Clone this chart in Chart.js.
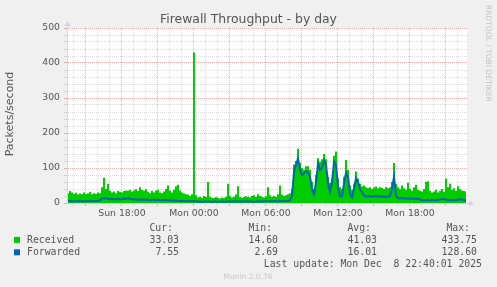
<!DOCTYPE html>
<html>
<head>
<meta charset="utf-8">
<title>Firewall Throughput - by day</title>
<script src="https://cdn.jsdelivr.net/npm/chart.js@4.4.0/dist/chart.umd.min.js"></script>
<style>
  html, body { margin: 0; padding: 0; background: #f0f0f0; }
  #wrap { width: 497px; height: 287px; }
</style>
</head>
<body>
<div id="wrap"><canvas id="myChart" width="497" height="287"></canvas></div>
<script>
// hours relative to Mon 00:00, one sample every 10 minutes
const startHour = -10.58;
const endHour = 22.75;
const stepHour = 1 / 6;

const dayLabels = { "-6": "Sun 18:00", "0": "Mon 00:00", "6": "Mon 06:00", "12": "Mon 12:00", "18": "Mon 18:00" };

const received = [
  28,34,30,26,29,24,27,25,30,26,
  27,32,25,28,26,30,28,45,72,40,
  55,35,30,33,28,35,32,30,34,36,
  35,38,33,36,40,34,45,37,35,39,
  32,28,35,30,36,38,30,28,33,40,
  50,35,30,38,48,52,36,30,27,25,
  24,20,25,430,22,16,18,15,20,17,
  60,18,15,14,17,15,13,16,14,18,
  55,20,16,18,24,48,18,15,17,19,
  18,16,20,22,18,25,20,18,16,19,
  45,22,18,20,17,25,50,24,20,22,
  25,28,40,110,120,155,115,100,95,105,
  105,95,60,40,80,128,118,125,140,125,
  75,58,70,135,147,70,45,40,75,123,
  95,50,38,55,90,70,55,47,50,45,
  42,45,40,44,47,42,45,43,40,46,
  42,45,60,114,55,45,40,50,42,38,
  58,40,35,45,52,38,35,33,40,60,
  62,35,30,33,38,30,35,40,32,70,
  45,55,38,42,35,48,40,36,34,33.03
];

const forwarded = [
  6,6,5,5,5,6,5,5,5,5,
  6,6,6,5,6,6,8,13,14,13,
  12,11,12,10,11,12,10,11,13,12,
  14,12,11,10,11,10,9,10,9,10,
  9,8,9,9,8,9,8,8,9,8,
  8,7,8,7,7,6,6,6,6,5,
  5,5,5,6,5,4,4,3,4,4,
  4,4,3,4,4,3,4,4,3,4,
  4,5,4,5,5,4,4,5,4,5,
  5,4,4,3,4,5,4,4,5,5,
  5,5,5,6,5,5,6,6,5,6,
  6,8,20,90,110,127,95,80,85,90,
  88,75,40,25,60,112,95,100,122,110,
  55,32,60,118,110,45,18,20,55,86,
  75,25,17,40,71,60,40,30,22,18,
  20,19,18,19,20,19,18,19,18,18,
  18,20,40,75,20,14,13,14,13,13,
  13,13,12,13,12,12,10,8,8,8,
  8,8,9,8,8,9,10,12,11,9,
  9,8,9,8,8,10,11,10,8,7.55
];

const seriesNames = ["Received", "Forwarded"];
const seriesColors = ["#00cc00", "#0066b3"];
const statCur = ["33.03", "7.55"];
const statMin = ["14.60", "2.69"];
const statAvg = ["41.03", "16.01"];
const statMax = ["433.75", "128.60"];
const lastUpdate = "Last update: Mon Dec  8 22:40:01 2025";

function toPoints(arr) {
  let pts = [];
  for (let i = 0; i < arr.length; i++) {
    pts.push({ x: startHour + (i + 0.5) * stepHour, y: arr[i] });
  }
  return pts;
}

const textColor = "#555555";
const axisColor = "#cfd6f8";
const minorGrid = "rgba(143,143,143,0.3)";
const majorGrid = "rgba(222,48,48,0.38)";

const muninPlugin = {
  id: "munin",
  beforeDraw(chart) {
    const ctx = chart.ctx;
    const a = chart.chartArea;
    ctx.save();
    ctx.fillStyle = "#f0f0f0";
    ctx.fillRect(0, 0, chart.width, chart.height);
    ctx.fillStyle = "#ffffff";
    ctx.fillRect(a.left, a.top, a.right - a.left, a.bottom - a.top);
    ctx.restore();
  },
  afterDraw(chart) {
    const ctx = chart.ctx;
    const a = chart.chartArea;
    ctx.save();

    // axis arrows
    ctx.strokeStyle = axisColor;
    ctx.fillStyle = axisColor;
    ctx.lineWidth = 1;
    ctx.beginPath();
    ctx.moveTo(a.left + 0.5, a.top);
    ctx.lineTo(a.left + 0.5, a.top - 3);
    ctx.moveTo(a.right, a.bottom + 0.5);
    ctx.lineTo(a.right + 3, a.bottom + 0.5);
    ctx.stroke();
    ctx.beginPath();
    ctx.moveTo(a.left + 0.5, a.top - 7);
    ctx.lineTo(a.left - 2.5, a.top - 2);
    ctx.lineTo(a.left + 3.5, a.top - 2);
    ctx.closePath();
    ctx.fill();
    ctx.beginPath();
    ctx.moveTo(a.right + 7, a.bottom + 0.5);
    ctx.lineTo(a.right + 2, a.bottom - 2.5);
    ctx.lineTo(a.right + 2, a.bottom + 3.5);
    ctx.closePath();
    ctx.fill();

    // title
    ctx.fillStyle = textColor;
    ctx.font = '12.4px "DejaVu Sans"';
    ctx.textAlign = "center";
    ctx.textBaseline = "alphabetic";
    ctx.fillText("Firewall Throughput - by day", 248.5, 23);

    // vertical unit label
    ctx.save();
    ctx.translate(10, 114);
    ctx.rotate(-Math.PI / 2);
    ctx.font = '11px "DejaVu Sans"';
    ctx.textBaseline = "middle";
    ctx.fillText("Packets/second", 0, 0);
    ctx.restore();

    // watermark on the right
    ctx.save();
    ctx.translate(488, 5);
    ctx.rotate(Math.PI / 2);
    ctx.font = '7.5px "DejaVu Sans"';
    ctx.fillStyle = "#c4c4c4";
    ctx.textAlign = "left";
    ctx.textBaseline = "middle";
    ctx.fillText("RRDTOOL / TOBI OETIKER", 0, 0);
    ctx.restore();

    // legend table
    ctx.font = '9.8px "DejaVu Sans Mono"';
    ctx.fillStyle = textColor;
    ctx.textAlign = "right";
    ctx.fillText("Cur:", 173, 231.3);
    ctx.fillText("Min:", 272, 231.3);
    ctx.fillText("Avg:", 371, 231.3);
    ctx.fillText("Max:", 470, 231.3);
    const rowY = [242.9, 255.3];
    for (let i = 0; i < seriesNames.length; i++) {
      ctx.fillStyle = seriesColors[i];
      ctx.fillRect(14, rowY[i] - 6, 6, 6);
      ctx.fillStyle = textColor;
      ctx.textAlign = "left";
      ctx.fillText(seriesNames[i], 27, rowY[i]);
      ctx.textAlign = "right";
      ctx.fillText(statCur[i], 179, rowY[i]);
      ctx.fillText(statMin[i], 278, rowY[i]);
      ctx.fillText(statAvg[i], 377, rowY[i]);
      ctx.fillText(statMax[i], 477, rowY[i]);
    }
    ctx.fillText(lastUpdate, 482, 267);

    ctx.font = '7.5px "DejaVu Sans"';
    ctx.fillStyle = "#c8c8c8";
    ctx.textAlign = "center";
    ctx.fillText("Munin 2.0.76", 248, 279);
    ctx.restore();
  }
};

const ctx = document.getElementById("myChart");
const myChart = new Chart(ctx, {
  type: "line",
  data: {
    datasets: [
      {
        label: seriesNames[0],
        data: toPoints(received),
        backgroundColor: seriesColors[0],
        borderColor: seriesColors[0],
        borderWidth: 0,
        pointRadius: 0,
        stepped: "middle",
        fill: "origin",
        order: 2
      },
      {
        label: seriesNames[1],
        data: toPoints(forwarded),
        borderColor: seriesColors[1],
        borderWidth: 2,
        pointRadius: 0,
        fill: false,
        order: 1
      }
    ]
  },
  options: {
    responsive: false,
    maintainAspectRatio: false,
    animation: false,
    layout: { padding: { left: 0, top: 28, right: 30, bottom: 0 } },
    plugins: {
      legend: { display: false },
      title: { display: false },
      tooltip: { enabled: false }
    },
    scales: {
      x: {
        type: "linear",
        min: startHour,
        max: endHour,
        afterFit: function (scale) { scale.height = 84; },
        afterBuildTicks: function (scale) {
          let t = [];
          for (let h = Math.ceil(startHour); h <= Math.floor(endHour); h++) t.push({ value: h });
          scale.ticks = t;
        },
        ticks: {
          autoSkip: false,
          maxRotation: 0,
          padding: 2,
          color: textColor,
          font: { family: "DejaVu Sans", size: 9.3 },
          callback: function (value) {
            return dayLabels[String(value)] || "";
          }
        },
        grid: {
          tickLength: 3,
          color: function (c) {
            return (c.tick && c.tick.value % 3 === 0) ? majorGrid : minorGrid;
          }
        },
        border: { display: true, color: axisColor, width: 1, dash: [1, 1] }
      },
      y: {
        min: 0,
        max: 500,
        afterFit: function (scale) { scale.width = 67; },
        ticks: {
          stepSize: 20,
          autoSkip: false,
          padding: 4,
          color: textColor,
          font: { family: "DejaVu Sans", size: 9.3 },
          callback: function (value) {
            return value % 100 === 0 ? value : "";
          }
        },
        grid: {
          tickLength: 3,
          color: function (c) {
            return (c.tick && c.tick.value % 100 === 0) ? majorGrid : minorGrid;
          }
        },
        border: { display: true, color: axisColor, width: 1, dash: [1, 1] }
      }
    }
  },
  plugins: [muninPlugin]
});
</script>
</body>
</html>
